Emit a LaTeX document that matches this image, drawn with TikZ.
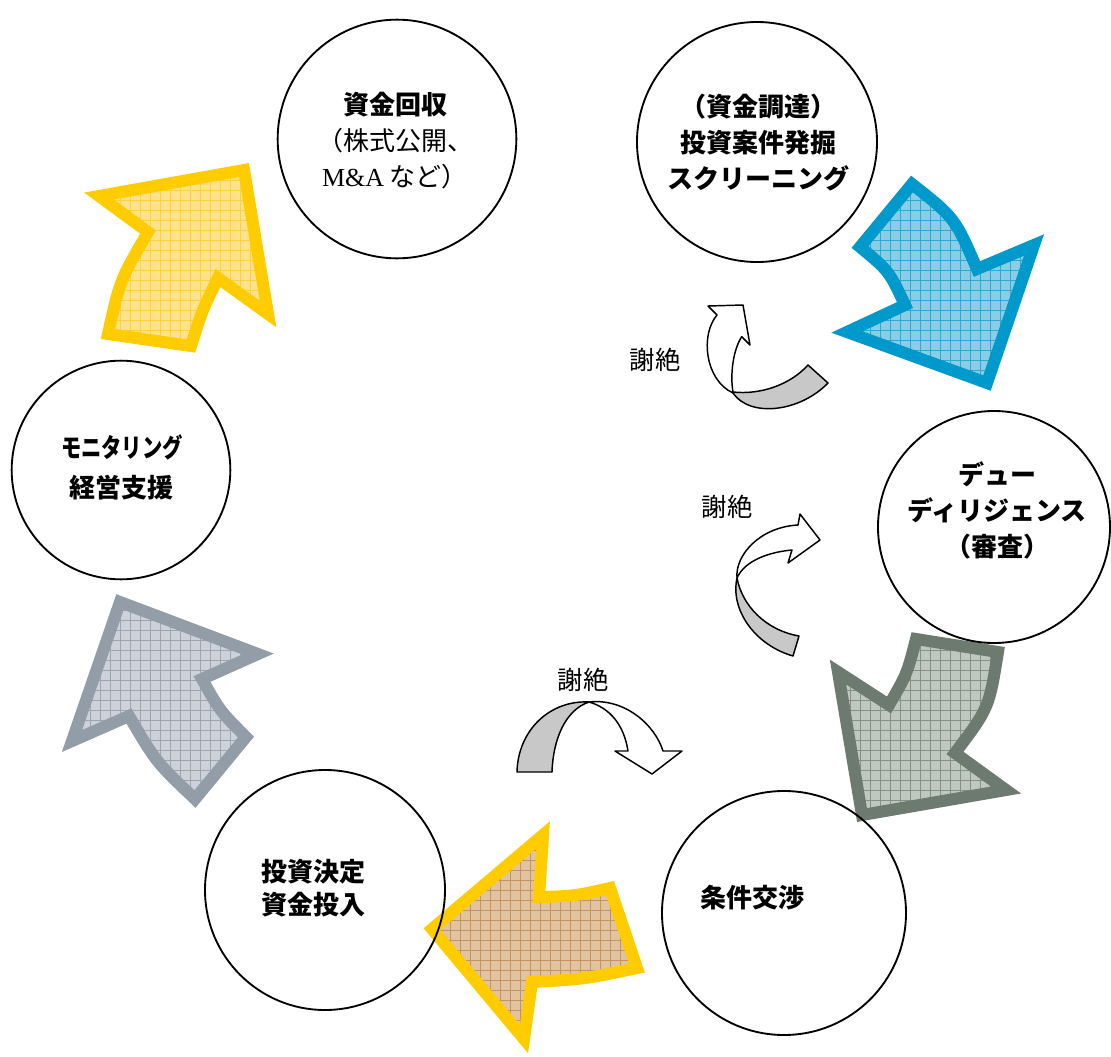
\documentclass[tikz,border=0pt]{standalone}
\usepackage{fontspec}
\newfontfamily\jp{Noto Sans CJK JP}
\newfontfamily\lser{Liberation Serif}
\definecolor{yborder}{HTML}{FFCC00}
\definecolor{yfill}{HTML}{FFE38C}
\definecolor{ygrid}{HTML}{FFD040}
\definecolor{bborder}{HTML}{0099CC}
\definecolor{bfill}{HTML}{8ACDE6}
\definecolor{bgrid}{HTML}{30A8D4}
\definecolor{gborder}{HTML}{6D7A6F}
\definecolor{gfill}{HTML}{BEC8BE}
\definecolor{ggrid}{HTML}{86908A}
\definecolor{tfill}{HTML}{E1C3A0}
\definecolor{tgrid}{HTML}{C4935F}
\definecolor{sborder}{HTML}{929DA8}
\definecolor{sfill}{HTML}{CDD2DA}
\definecolor{sgrid}{HTML}{9DA6B0}
\definecolor{ribgray}{HTML}{C8C8C8}
\newcommand\bigarrow[4]{%
  \begin{scope}
    \clip #1;
    \fill[#3] (0,1057) rectangle (1111,0);
    \draw[#4, line width=0.4pt, step=7.5pt] (0,1057) grid (1111,0);
  \end{scope}
  \draw[#2, line width=9pt, line join=miter] #1;
}
\tikzset{
  circ/.style={draw, line width=1.4pt, circle, inner sep=0pt, minimum size=#1},
  ctext/.style={font=\jp\bfseries\fontsize{19.5pt}{27pt}\selectfont, align=center, inner sep=0pt},
  rib/.style={draw=black, line width=1.1pt, line join=round},
  reflabel/.style={font=\jp\fontsize{19pt}{22pt}\selectfont, inner sep=0pt}
}
\begin{document}
\begin{tikzpicture}[x=0.75pt, y=-0.75pt]
\useasboundingbox (0,0) rectangle (1111,1057);

% big arrows
\bigarrow{(148,232) -- (99,196) -- (244,170) -- (268,314) -- (218,278) .. controls (202,311) .. (191,346) -- (108,334) .. controls (120,280) .. (148,232) -- cycle}{yborder}{yfill}{ygrid}
\bigarrow{(912,184) -- (860,247) .. controls (889,271) .. (905,305) -- (847,332) -- (987,383) -- (1034,245) -- (977,269) .. controls (955,218) .. (912,184) -- cycle}{bborder}{bfill}{bgrid}
\bigarrow{(916,639) -- (998,652) .. controls (989,708) .. (955,753) -- (1006,790) -- (862,815) -- (838,672) -- (889,705) .. controls (907,674) .. (916,639) -- cycle}{gborder}{gfill}{ggrid}
\bigarrow{(432,929) -- (543,835) -- (539,897) .. controls (575,896) .. (610,888) -- (637,968) .. controls (585,979) .. (532,982) -- (524,1039) -- cycle}{yborder}{tfill}{tgrid}
\bigarrow{(120,602) -- (258,654) -- (202,679) .. controls (220,711) .. (246,737) -- (195,799) .. controls (156,762) .. (129,716) -- (72,741) -- cycle}{sborder}{sfill}{sgrid}

% circles
\node[circ=179pt] (c1) at (397,139) {};
\node[circ=180pt] (c2) at (757,142) {};
\node[circ=174pt] (c3) at (994,527) {};
\node[circ=183pt] (c4) at (784,913) {};
\node[circ=180pt] (c5) at (325,890) {};
\node[circ=164pt] (c6) at (121,470) {};

% circle texts
\node[ctext] (t1) at (395,141) {資金回収\\{\mdseries （株式公開、}\\{\mdseries{\lser M\&A} など）}};
\node[ctext] (t2) at (758,143) {（資金調達）\\投資案件発掘\\スクリーニング};
\node[ctext] (t3) at (997,510) {デュー\\ディリジェンス\\（審査）};
\node[ctext] (t4) at (752,898) {条件交渉};
\node[ctext, font=\jp\bfseries\fontsize{19.5pt}{25pt}\selectfont] (t5) at (313,888) {投資決定\\資金投入};
\node[ctext, font=\jp\bfseries\fontsize{19.5pt}{30pt}\selectfont] (t6) at (122,467) {\scalebox{0.78}[1]{モニタリング}\\経営支援};

% refusal arrow 1
\draw[rib, fill=ribgray] (733,392) .. controls (760,395) and (790,385) .. (808,365) -- (828,383) .. controls (800,412) and (750,418) .. (733,393) -- cycle;
\draw[rib, fill=white] (733,393) .. controls (705,380) and (700,335) .. (717,315) -- (708,306) -- (743,305) -- (750,345) -- (741.7,336.7) .. controls (733,350) and (730,375) .. (733,392) -- cycle;
\node[reflabel] (r1) at (655,360) {謝絶};

% refusal arrow 2
\draw[rib, fill=ribgray] (737,578) .. controls (730,610) and (755,645) .. (793,656) -- (799,636) .. controls (765,630) and (742,605) .. (737,578) -- cycle;
\draw[rib, fill=white] (737,578) .. controls (735,555) and (760,527) .. (798,525) -- (800,514) -- (820,540) -- (788,563) -- (792,550) .. controls (770,552) and (745,560) .. (737,578) -- cycle;
\node[reflabel] (r2) at (727,507) {謝絶};

% refusal arrow 3
\draw[rib, fill=ribgray] (517,772) .. controls (518,730) and (550,700) .. (589,702) .. controls (565,710) and (553,740) .. (552,772) -- cycle;
\draw[rib, fill=white] (589,702) .. controls (625,698) and (655,725) .. (663,751) -- (682,751) -- (652,774) -- (615,751) -- (628,751) .. controls (624,725) and (610,708) .. (589,702) -- cycle;
\node[reflabel] (r3) at (583,680) {謝絶};
\end{tikzpicture}
\end{document}
